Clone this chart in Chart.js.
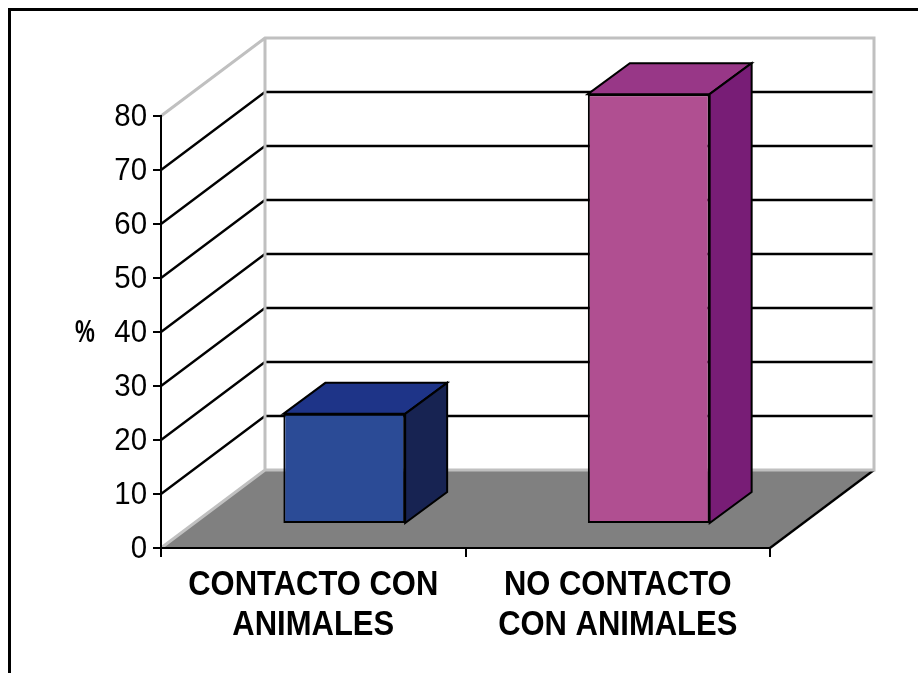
<!DOCTYPE html>
<html>
<head>
<meta charset="utf-8">
<script src="https://cdn.jsdelivr.net/npm/chart.js@4.4.1/dist/chart.umd.min.js"></script>
<style>
    body { margin: 0; background: #fff; }
    canvas { display: block; }
</style>
</head>
<body>
<canvas id="chart_1" width="918" height="673"></canvas>
<script>
// data
const labels = [
    ["CONTACTO CON", "ANIMALES"],
    ["NO CONTACTO", "CON ANIMALES"]
]
const values = [20.4, 79.6]
const front_colors = ["#2b4b96", "#b04f91"]
const top_colors = ["#1e3488", "#983787"]
const side_colors = ["#172352", "#781d76"]
const y_min = 0
const y_max = 80
const y_step = 10
const y_title = "%"

// fake 3d depth
const wall_dx = 104, wall_dy = -78
const bar_dx = 31, bar_dy = -24
const depth_dx = 42, depth_dy = -31

const font_family = "'Liberation Sans', Arial, sans-serif"

// the original uses a condensed face, squeeze the text a bit
function narrow_text(ctx, text, x, y, squeeze){
    ctx.save()
    ctx.translate(x, y)
    ctx.scale(squeeze, 1)
    ctx.fillText(text, 0, 0)
    ctx.restore()
}

const walls = {
    id: "walls",
    beforeDraw(chart){
        const ctx = chart.ctx
        const a = chart.chartArea
        const ys = chart.scales.y
        ctx.save()
        ctx.fillStyle = "#fff"
        ctx.fillRect(0, 0, chart.width, chart.height)

        // outer frame
        ctx.strokeStyle = "#000"
        ctx.lineWidth = 3
        ctx.beginPath()
        ctx.moveTo(9.5, chart.height)
        ctx.lineTo(9.5, 9.5)
        ctx.lineTo(chart.width, 9.5)
        ctx.stroke()

        const y0 = ys.getPixelForValue(y_min)
        const ytop = ys.getPixelForValue(y_max)

        // floor
        ctx.fillStyle = "#808080"
        ctx.beginPath()
        ctx.moveTo(a.left, y0)
        ctx.lineTo(a.left + wall_dx, y0 + wall_dy)
        ctx.lineTo(a.right + wall_dx, y0 + wall_dy)
        ctx.lineTo(a.right, y0)
        ctx.closePath()
        ctx.fill()
        ctx.strokeStyle = "#000"
        ctx.lineWidth = 2.3
        ctx.beginPath()
        ctx.moveTo(a.right, y0)
        ctx.lineTo(a.right + wall_dx, y0 + wall_dy)
        ctx.stroke()

        // grid lines on side and back wall
        for(let v = y_min + y_step; v < y_max; v += y_step){
            const py = Math.round(ys.getPixelForValue(v))
            ctx.beginPath()
            ctx.moveTo(a.left, py)
            ctx.lineTo(a.left + wall_dx, py + wall_dy)
            ctx.lineTo(a.right + wall_dx, py + wall_dy)
            ctx.stroke()
        }

        // light grey wall edges
        ctx.strokeStyle = "#c0c0c0"
        ctx.lineWidth = 3
        ctx.beginPath()
        ctx.moveTo(a.left, ytop)
        ctx.lineTo(a.left + wall_dx, ytop + wall_dy)
        ctx.lineTo(a.right + wall_dx, ytop + wall_dy)
        ctx.lineTo(a.right + wall_dx, y0 + wall_dy)
        ctx.lineTo(a.left + wall_dx, y0 + wall_dy)
        ctx.lineTo(a.left + wall_dx, ytop + wall_dy)
        ctx.moveTo(a.left + wall_dx, y0 + wall_dy)
        ctx.lineTo(a.left, y0)
        ctx.stroke()
        ctx.restore()
    },
    beforeDatasetsDraw(chart){
        chart.ctx.save()
        chart.ctx.translate(bar_dx, bar_dy)
    },
    afterDatasetsDraw(chart){
        const ctx = chart.ctx
        const bars = chart.getDatasetMeta(0).data
        bars.forEach((bar, i) => {
            const p = bar.getProps(["x", "y", "base", "width"], true)
            const l = p.x - p.width / 2
            const r = p.x + p.width / 2
            ctx.lineWidth = 2
            ctx.strokeStyle = "#000"
            ctx.lineJoin = "miter"
            // top face
            ctx.fillStyle = top_colors[i]
            ctx.beginPath()
            ctx.moveTo(l, p.y)
            ctx.lineTo(l + depth_dx, p.y + depth_dy)
            ctx.lineTo(r + depth_dx, p.y + depth_dy)
            ctx.lineTo(r, p.y)
            ctx.closePath()
            ctx.fill()
            ctx.stroke()
            // side face
            ctx.fillStyle = side_colors[i]
            ctx.beginPath()
            ctx.moveTo(r, p.y)
            ctx.lineTo(r + depth_dx, p.y + depth_dy)
            ctx.lineTo(r + depth_dx, p.base + depth_dy)
            ctx.lineTo(r, p.base)
            ctx.closePath()
            ctx.fill()
            ctx.stroke()
        })
        ctx.restore()
    },
    afterDraw(chart){
        const ctx = chart.ctx
        const a = chart.chartArea
        const xs = chart.scales.x
        const ys = chart.scales.y
        ctx.save()
        ctx.fillStyle = "#000"

        // y tick labels
        ctx.font = "32px " + font_family
        ctx.textAlign = "right"
        ctx.textBaseline = "middle"
        ys.ticks.forEach((t, i) => {
            narrow_text(ctx, t.label, a.left - 14, ys.getPixelForTick(i) + 1, 0.92)
        })

        // category labels, two lines each
        ctx.font = "bold 35px " + font_family
        ctx.textAlign = "center"
        ctx.textBaseline = "alphabetic"
        xs.getLabels().forEach((lines, i) => {
            const px = xs.getPixelForTick(i)
            lines.forEach((line, k) => {
                narrow_text(ctx, line, px, a.bottom + 47 + k * 40, 0.885)
            })
        })

        // axis title
        ctx.font = "bold 31px " + font_family
        ctx.textBaseline = "middle"
        narrow_text(ctx, y_title, 85, (a.top + a.bottom) / 2 + 1, 0.72)
        ctx.restore()
    }
}

const ctx_1 = document.getElementById("chart_1").getContext("2d")
const chart_1 = new Chart(ctx_1, {
    type: "bar",
    data: {
        labels,
        datasets: [
            {
                data: values,
                backgroundColor: front_colors,
                borderColor: "#000",
                borderWidth: 2,
                borderSkipped: false,
                categoryPercentage: 1,
                barPercentage: 0.4,
                clip: false
            }
        ]
    },
    options: {
        responsive: false,
        animation: false,
        layout: {
            padding: { top: 116, right: 148, bottom: 0, left: 0 }
        },
        plugins: {
            legend: { display: false },
            tooltip: { enabled: false }
        },
        scales: {
            x: {
                afterFit(scale){ scale.height = 125 },
                grid: {
                    display: true,
                    drawOnChartArea: false,
                    offset: true,
                    tickLength: 9,
                    color: "#000",
                    lineWidth: 2
                },
                border: { display: true, color: "#000", width: 2 },
                ticks: { display: false }
            },
            y: {
                min: y_min,
                max: y_max,
                afterFit(scale){ scale.width = 161 },
                grid: {
                    display: true,
                    drawOnChartArea: false,
                    tickLength: 8,
                    color: "#000",
                    lineWidth: 2
                },
                border: { display: true, color: "#000", width: 2 },
                ticks: { display: false, stepSize: y_step }
            }
        }
    },
    plugins: [walls]
})
</script>
</body>
</html>
